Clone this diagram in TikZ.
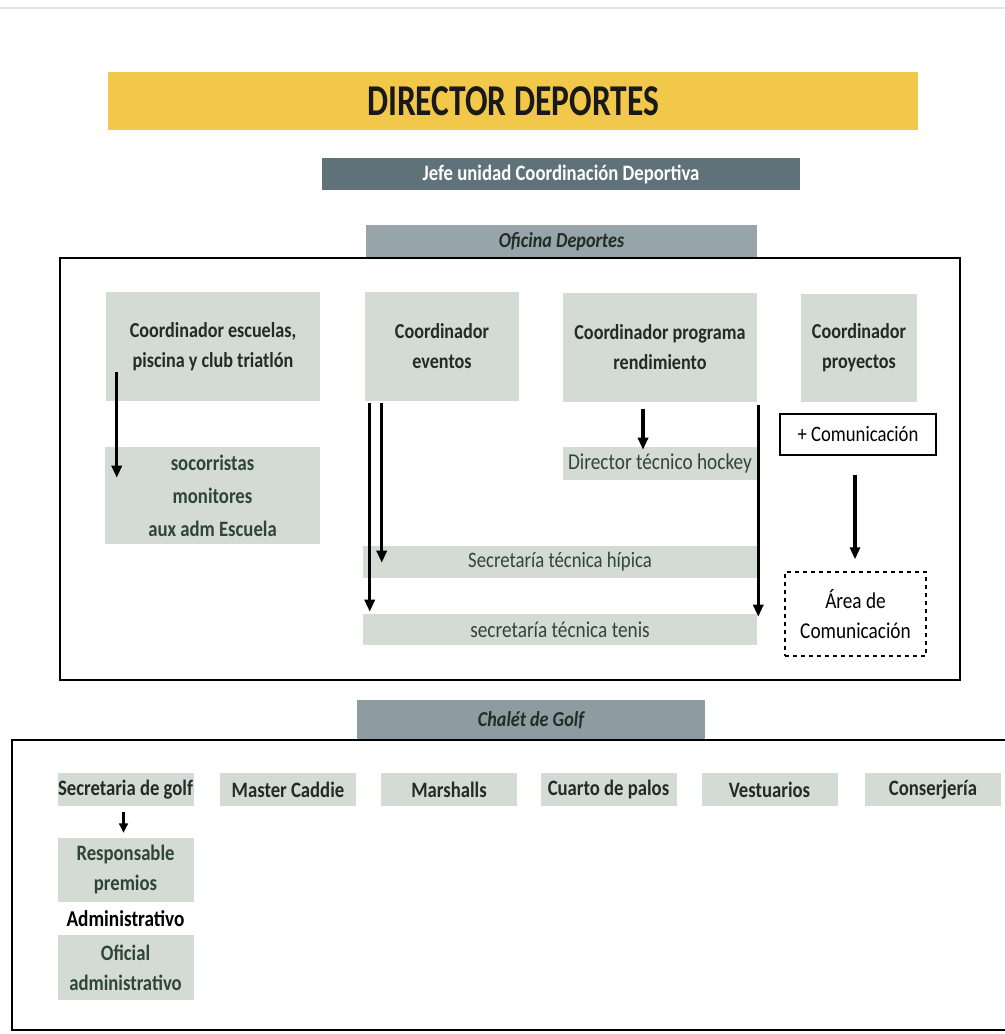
\documentclass[tikz,border=0pt]{standalone}
\usepackage{fontspec}
\setmainfont{Carlito}
\newfontfamily\cnd[FakeStretch=0.85]{Carlito}
\newfontfamily\cndt[FakeStretch=0.76]{Carlito}
\usetikzlibrary{arrows.meta}
\definecolor{amarillo}{HTML}{F2C84A}
\definecolor{pizarra}{HTML}{5F7179}
\definecolor{grismed}{HTML}{97A4A9}
\definecolor{grischal}{HTML}{8E9CA1}
\definecolor{gricaja}{HTML}{D4DAD4}
\definecolor{tinta}{HTML}{222C27}
\definecolor{tintav}{HTML}{2F4636}
\tikzset{
  caja/.style={fill=gricaja,text=tinta,align=center,inner sep=0pt,font=\cnd\bfseries\fontsize{16pt}{22.5pt}\selectfont},
  cajafina/.style={caja,font=\cnd\fontsize{16.5pt}{18pt}\selectfont,text=tintav},
  golf/.style={caja,minimum width=102pt,minimum height=24.75pt,font=\cnd\bfseries\fontsize{16.5pt}{18pt}\selectfont},
  flecha/.style={line width=2.6pt,-{Triangle[length=9pt,width=7.5pt]}},
  marco/.style={line width=1.5pt}
}
\begin{document}
\begin{tikzpicture}[x=0.75pt,y=-0.75pt]
	\useasboundingbox (0,0) rectangle (1005,1034);
	\draw[gray!20,line width=1.5pt] (0,8)--(1005,8);
	% cabecera
		\node[fill=amarillo,minimum width=607.5pt,minimum height=43.5pt,font=\cndt\bfseries\fontsize{33pt}{36pt}\selectfont,text=black!90] (dir) at (513,101) {DIRECTOR DEPORTES};
		\node[fill=pizarra,minimum width=358.5pt,minimum height=24pt,text=white,font=\cnd\bfseries\fontsize{16.5pt}{18pt}\selectfont] (jefe) at (561,174) {Jefe unidad Coordinación Deportiva};
		\node[fill=grismed,minimum width=293.25pt,minimum height=24.75pt,text=tinta,font=\cnd\bfseries\itshape\fontsize{16pt}{17pt}\selectfont] (ofi) at (561.5,241.5) {Oficina Deportes};
	% oficina
		\draw[marco] (60,258) rectangle (960,680);
			\node[caja,minimum width=160.5pt,minimum height=81.75pt] (c1) at (213,346.5) {Coordinador escuelas,\\piscina y club triatlón};
			\node[caja,minimum width=115.5pt,minimum height=81.75pt] (c2) at (442,346.5) {Coordinador\\eventos};
			\node[caja,minimum width=145.5pt,minimum height=81.75pt] (c3) at (660,347) {Coordinador programa\\rendimiento};
			\node[caja,minimum width=87pt,minimum height=81pt] (c4) at (859,348) {Coordinador\\proyectos};
			\node[cajafina,minimum width=161.25pt,minimum height=72.75pt,font=\cnd\bfseries\fontsize{16.5pt}{24.75pt}\selectfont] (soc) at (212.5,495.5) {socorristas\\monitores\\aux adm Escuela};
			\node[cajafina,minimum width=145.5pt,minimum height=24.75pt,font=\cnd\fontsize{17pt}{18pt}\selectfont] (hoc) at (660,463.5) {Director técnico hockey};
			\node[cajafina,minimum width=295.5pt,minimum height=24pt] (hip) at (560,562) {Secretaría técnica hípica};
			\node[cajafina,minimum width=295.5pt,minimum height=23.25pt,font=\cnd\fontsize{17pt}{18pt}\selectfont] (ten) at (560,629.5) {secretaría técnica tenis};
			\node[draw,line width=1pt,minimum width=117pt,minimum height=30.75pt,font=\cnd\fontsize{16.5pt}{18pt}\selectfont] (com) at (858,434.5) {+ Comunicación};
			\node[draw,dashed,line width=1pt,minimum width=105.75pt,minimum height=63pt,align=center,font=\cnd\fontsize{17pt}{22.5pt}\selectfont] (area) at (855.5,614) {Área de\\Comunicación};
				\draw[flecha] ([shift={(11,-29)}]c1.south west) -- ([shift={(11,31)}]c1.south west |- soc.north);
				\draw[flecha] ([shift={(5,2)}]c2.south west) -- ([shift={(5,-2)}]c2.south west |- ten.north);
				\draw[flecha] ([shift={(17,2)}]c2.south west) -- ([shift={(17,17)}]c2.south west |- hip.north);
				\draw[flecha] ([shift={(-17,7)}]c3.south) -- ([shift={(-17,3)}]c3.south |- hoc.north);
				\draw[flecha] ([shift={(1,3)}]c3.south east) -- ([shift={(1,3)}]c3.south east |- ten.north);
				\draw[flecha] ([shift={(-3,19)}]com.south) -- ([shift={(-3,-12)}]com.south |- area.north);
	% chalet
		\node[fill=grischal,minimum width=261pt,minimum height=30pt,text=tinta,font=\cnd\bfseries\itshape\fontsize{16pt}{17pt}\selectfont] (cha) at (531,720) {Chalét de Golf};
		\draw[marco] (12,740) rectangle (1012,1030);
			\node[golf] (g1) at (125.5,789.5) {Secretaria de golf};
			\node[golf] (g2) at (288,789.5) {Master Caddie};
			\node[golf] (g3) at (449,789.5) {Marshalls};
			\node[golf] (g4) at (608.5,789.5) {Cuarto de palos};
			\node[golf] (g5) at (769.5,789.5) {Vestuarios};
			\node[golf] (g6) at (933,789.5) {Conserjería};
			\node[golf,minimum height=48pt,font=\cnd\bfseries\fontsize{16.5pt}{22.5pt}\selectfont,text=tintav] (resp) at (125.5,870) {Responsable\\premios};
			\node[font=\cnd\bfseries\fontsize{17pt}{18pt}\selectfont,inner sep=0pt] (adm) at (125.5,919) {Administrativo};
			\node[golf,minimum height=48.75pt,font=\cnd\bfseries\fontsize{16.5pt}{22.5pt}\selectfont,text=tintav] (ofa) at (125.5,967.5) {Oficial\\administrativo};
				\draw[flecha,line width=2pt,-{Triangle[length=7pt,width=6.5pt]}] ([shift={(-2,6)}]g1.south) -- ([shift={(-2,-5)}]g1.south |- resp.north);
\end{tikzpicture}
\end{document}
